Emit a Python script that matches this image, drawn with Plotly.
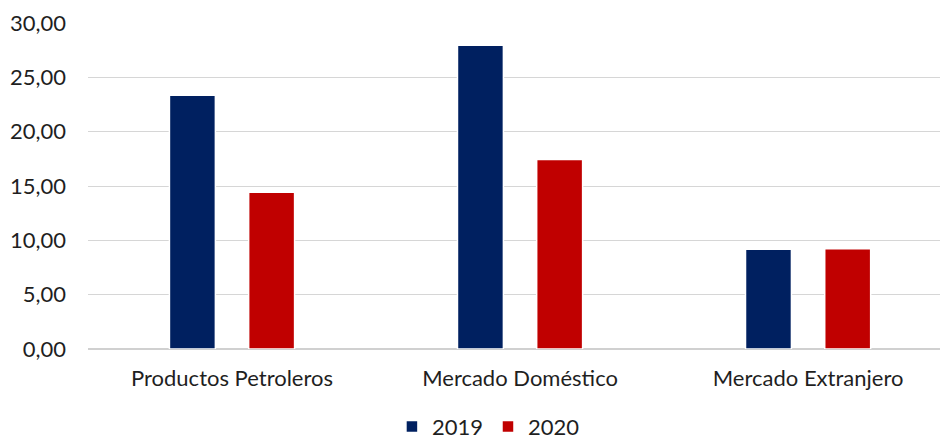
import plotly.graph_objects as go

categories = ["Productos Petroleros", "Mercado Doméstico", "Mercado Extranjero"]
series_names = ["2019", "2020"]
values_2019 = [23.35, 27.95, 9.19]
values_2020 = [14.42, 17.44, 9.23]
y_ticks = [0, 5, 10, 15, 20, 25, 30]

colors = {"2019": "#002060", "2020": "#C00000"}
font_family = "Lato, 'Open Sans', sans-serif"
text_color = "#1f1f1f"

fig = go.Figure()
for name, vals in zip(series_names, [values_2019, values_2020]):
    fig.add_trace(go.Bar(
        x=categories,
        y=vals,
        name=name,
        marker=dict(color=colors[name], line=dict(color="white", width=1.5)),
    ))

fig.update_layout(
    width=940,
    height=440,
    margin=dict(l=88, r=0, t=23, b=91, autoexpand=False),
    paper_bgcolor="white",
    plot_bgcolor="white",
    barmode="group",
    bargap=0.45,
    bargroupgap=0.42,
    separators=",.",
    font=dict(family=font_family, size=22, color=text_color),
    showlegend=True,
    legend=dict(
        orientation="h",
        x=0.47,
        xanchor="center",
        y=-0.238,
        yanchor="middle",
        font=dict(size=22, color=text_color),
        itemwidth=30,
        traceorder="normal",
    ),
)

fig.update_xaxes(
    range=[-0.5, 2.458],
    showgrid=False,
    showline=False,
    ticks="",
    ticklabelstandoff=14,
    tickfont=dict(size=22, color=text_color),
)
fig.update_yaxes(
    range=[0, 30],
    tickvals=y_ticks,
    tickformat=".2f",
    showgrid=True,
    gridcolor="#D6D6D6",
    gridwidth=1.2,
    zeroline=True,
    zerolinecolor="#D0D0D0",
    zerolinewidth=1.5,
    showline=False,
    ticks="",
    ticklabelstandoff=21,
    tickfont=dict(size=22, color=text_color),
)

fig.write_html("out.html")
